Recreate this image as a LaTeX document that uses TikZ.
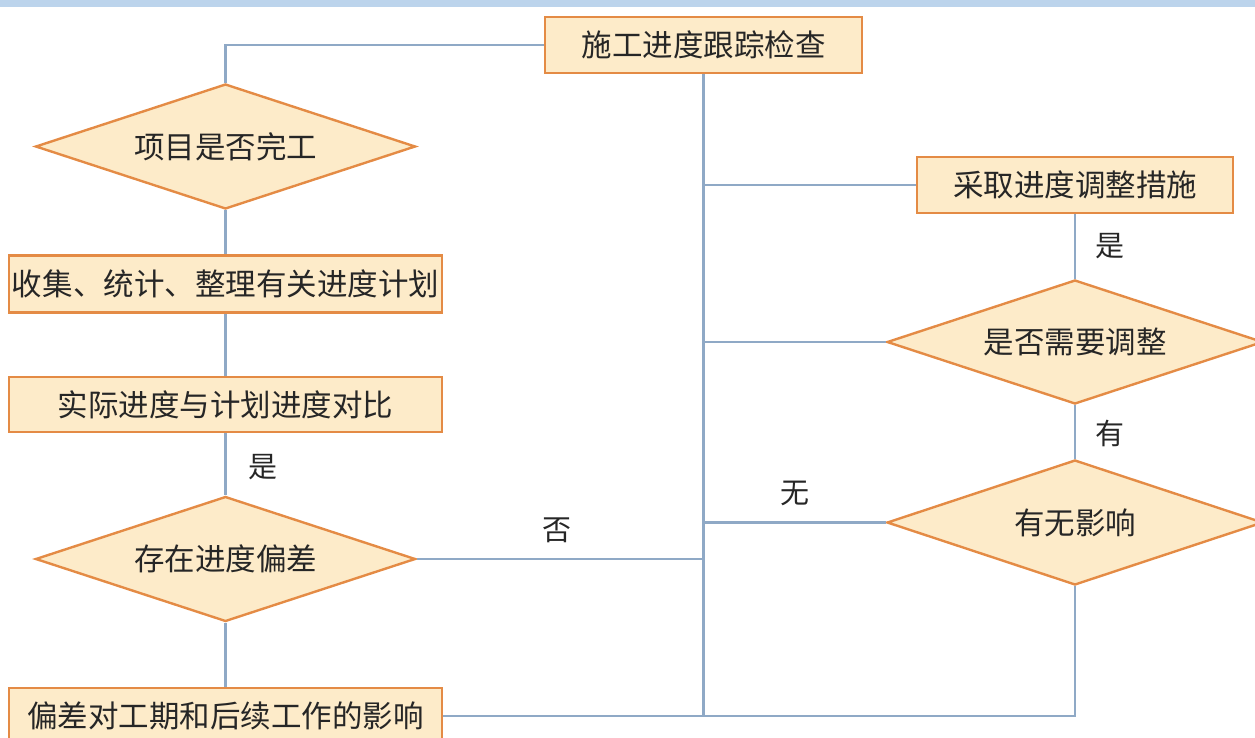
\documentclass[tikz,border=0pt]{standalone}
\usepackage{fontspec}
\setmainfont{Noto Sans CJK SC}
\usetikzlibrary{shapes.geometric}
\definecolor{bandblue}{HTML}{BCD4EC}
\definecolor{boxfill}{HTML}{FDEBC9}
\definecolor{boxedge}{HTML}{E48B45}
\definecolor{linecol}{HTML}{8FA9C6}
\definecolor{txt}{HTML}{262626}
\tikzset{
  procbox/.style={draw=boxedge, fill=boxfill, line width=2.8pt, inner sep=0pt,
    text=txt, font=\fontsize{30.5}{36}\selectfont},
  decide/.style={diamond, aspect=3, draw=boxedge, fill=boxfill, line width=2.4pt, inner sep=0pt,
    minimum width=380pt, minimum height=125pt, text=txt, font=\fontsize{30.5}{36}\selectfont},
  conn/.style={draw=linecol, line width=2.2pt},
  lab/.style={text=txt, font=\fontsize{29}{34}\selectfont, inner sep=0pt}
}
\begin{document}
\begin{tikzpicture}[x=1pt,y=-1pt]
\useasboundingbox (0,0) rectangle (1255,737);
\clip (0,0) rectangle (1255,737);
\fill[bandblue] (0,0) rectangle (1255,7);

% nodes
\node[procbox, minimum width=317pt, minimum height=56pt] (A) at (703.5,45) {施工进度跟踪检查};
\node[decide] (B) at (225.5,146.5) {项目是否完工};
\node[procbox, minimum width=433pt, minimum height=57pt] (C) at (225.5,284) {收集、统计、整理有关进度计划};
\node[procbox, minimum width=433pt, minimum height=55pt] (D) at (225.5,404.5) {实际进度与计划进度对比};
\node[decide] (E) at (225.5,559) {存在进度偏差};
\node[procbox, minimum width=433pt, minimum height=56pt] (F) at (225.5,716) {偏差对工期和后续工作的影响};
\node[procbox, minimum width=316pt, minimum height=56pt] (G) at (1075,185) {采取进度调整措施};
\node[decide, minimum width=376pt, minimum height=124pt] (I) at (1075,342) {是否需要调整};
\node[decide, minimum width=376pt, minimum height=125pt] (H) at (1075,522.5) {有无影响};

\coordinate (T) at (A.south |- F.east);

\draw[conn] (A.west) -| (B.north);
\draw[conn] (B.south) -- (C.north);
\draw[conn] (C.south) -- (D.north);
\draw[conn] (D.south) -- (E.north);
\draw[conn] (E.south) -- (F.north);
\draw[conn] (A.south) -- (T);
\draw[conn] (E.east) -- (E.east -| T);
\draw[conn] (G.west -| T) -- (G.west);
\draw[conn] (I.west -| T) -- (I.west);
\draw[conn] (H.west -| T) -- (H.west);
\draw[conn] (G.south) -- (I.north);
\draw[conn] (I.south) -- (H.north);
\draw[conn] (H.south) |- (F.east);

% labels
\node[lab] (l1) at (263,467) {是};
\node[lab] (l2) at (557,530) {否};
\node[lab] (l3) at (795,493) {无};
\node[lab] (l4) at (1110,246) {是};
\node[lab] (l5) at (1110,433) {有};
\end{tikzpicture}
\end{document}
